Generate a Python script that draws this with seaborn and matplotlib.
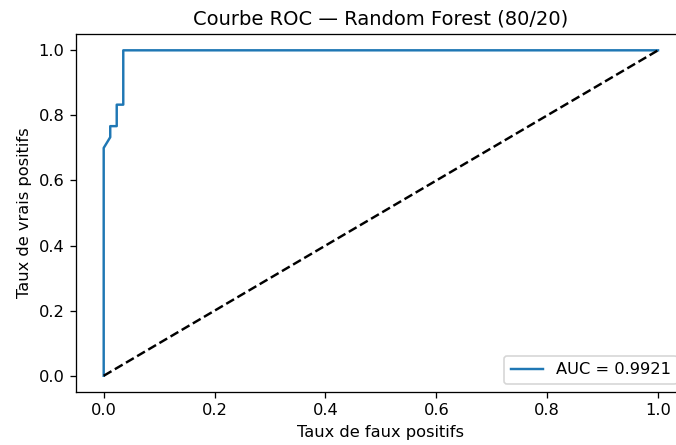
import numpy as np
import pandas as pd
import matplotlib
matplotlib.use('Agg')
import matplotlib.pyplot as plt
import seaborn as sns

# points de la courbe ROC
fpr = [0.0, 0.0, 0.0118, 0.0118, 0.0235, 0.0235, 0.0353, 0.0353, 1.0]
tpr = [0.0, 0.70, 0.733, 0.767, 0.767, 0.833, 0.833, 1.0, 1.0]
auc_value = 0.9921

# diagonale (classifieur aléatoire)
diag_x = [0, 1]
diag_y = [0, 1]

roc = pd.DataFrame({'fpr': fpr, 'tpr': tpr})

DPI = 117
fig = plt.figure(figsize=(676 / DPI, 445 / DPI), dpi=DPI)
ax = fig.add_axes([0.1124, 0.119, 0.902, 0.8045])
sns.lineplot(data=roc, x='fpr', y='tpr', sort=False, estimator=None,
             color='#1f77b4', label=f'AUC = {auc_value:.4f}', ax=ax)
ax.plot(diag_x, diag_y, 'k--')
ax.set_title('Courbe ROC — Random Forest (80/20)')
ax.set_xlabel('Taux de faux positifs')
ax.set_ylabel('Taux de vrais positifs')
ax.legend(loc='lower right')
fig.savefig('out.png', dpi=DPI)
